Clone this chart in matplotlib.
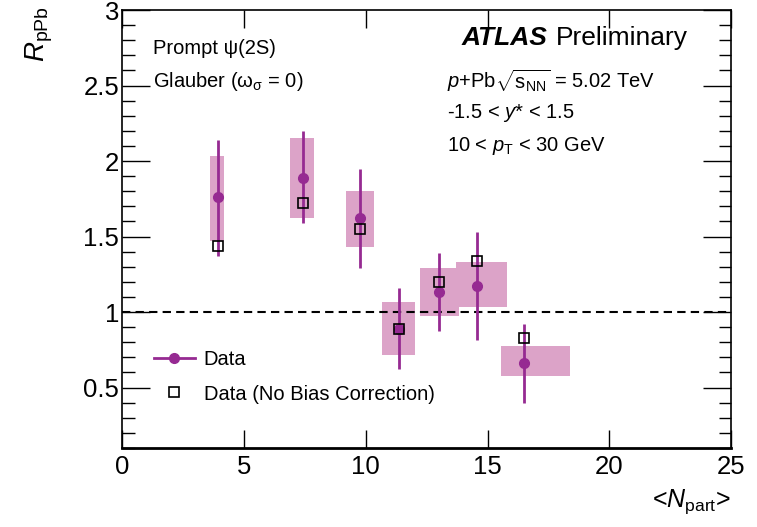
import matplotlib.pyplot as plt
import numpy as np
from matplotlib.patches import Rectangle
from matplotlib.lines import Line2D
from matplotlib.ticker import MultipleLocator

plt.rcParams['font.family'] = ['Liberation Sans', 'DejaVu Sans']
plt.rcParams['mathtext.fontset'] = 'custom'
plt.rcParams['mathtext.rm'] = 'Liberation Sans'
plt.rcParams['mathtext.it'] = 'Liberation Sans:italic'
plt.rcParams['mathtext.bf'] = 'Liberation Sans:bold'

# data
npart = [3.93, 7.43, 9.77, 11.35, 13.02, 14.58, 16.49]
rppb = [1.76, 1.89, 1.62, 0.89, 1.13, 1.17, 0.66]
stat_hi = [2.14, 2.20, 1.945, 1.157, 1.39, 1.53, 0.92]
stat_lo = [1.37, 1.59, 1.29, 0.62, 0.874, 0.815, 0.40]
sys_xlo = [3.6, 6.9, 9.18, 10.68, 12.25, 13.72, 15.56]
sys_xhi = [4.2, 7.88, 10.36, 12.01, 13.85, 15.82, 18.37]
sys_lo = [1.47, 1.62, 1.43, 0.715, 0.975, 1.035, 0.576]
sys_hi = [2.03, 2.15, 1.80, 1.064, 1.293, 1.33, 0.773]
rppb_nobias = [1.44, 1.72, 1.55, 0.89, 1.20, 1.336, 0.83]

purple = '#962a92'
pink = '#dca3c8'

fig = plt.figure(figsize=(7.57, 5.27), dpi=100)
ax = fig.add_axes([0.161, 0.150, 0.805, 0.831])

for i in range(len(npart)):
    ax.add_patch(Rectangle((sys_xlo[i], sys_lo[i]), sys_xhi[i] - sys_xlo[i],
                           sys_hi[i] - sys_lo[i], facecolor=pink, edgecolor='none', zorder=1))

ax.axhline(1, color='black', ls=(0, (4, 2.5)), lw=1.5, zorder=2)

x = np.array(npart)
y = np.array(rppb)
yerr = [y - np.array(stat_lo), np.array(stat_hi) - y]
ax.errorbar(x, y, yerr=yerr, fmt='o', color=purple, ms=7, lw=2, capsize=0, zorder=3)
ax.plot(x, rppb_nobias, 's', ms=6.5, mfc='none', mec='black', mew=1.2, ls='none', zorder=4)

ax.set_xlim(0, 25)
ax.set_ylim(0.1, 3)
ax.xaxis.set_major_locator(MultipleLocator(5))
ax.yaxis.set_minor_locator(MultipleLocator(0.1))
ax.set_yticks([0.5, 1, 1.5, 2, 2.5, 3])
ax.set_yticklabels(['0.5', '1', '1.5', '2', '2.5', '3'])
ax.tick_params(axis='both', which='both', direction='in', top=True, right=True,
               labelsize=18.5, width=1)
ax.tick_params(axis='y', which='major', length=20, pad=2)
ax.tick_params(axis='y', which='minor', length=9)
ax.tick_params(axis='x', which='major', length=13, pad=5)
for s in ax.spines.values():
    s.set_linewidth(1.2)
ax.spines['bottom'].set_linewidth(2)

fig.text(0.052, 0.988, r'$R_{\mathrm{pPb}}$', rotation=90, ha='center', va='top', fontsize=20)
fig.text(0.966, 0.020, r'<$N_{\mathrm{part}}$>', ha='right', va='bottom', fontsize=18)

ax.text(0.051, 0.913, 'Prompt ψ(2S)', transform=ax.transAxes, fontsize=14.5, va='center')
ax.text(0.051, 0.837, r'Glauber (ω$_{\mathregular{σ}}$ = 0)', transform=ax.transAxes,
        fontsize=14.5, va='center')
ax.text(0.558, 0.937, 'ATLAS', transform=ax.transAxes, fontsize=19, weight='bold',
        style='italic', va='center')
ax.text(0.712, 0.937, 'Preliminary', transform=ax.transAxes, fontsize=19, va='center')
ax.text(0.534, 0.838, r'$p$+Pb$\sqrt{\mathrm{s}_{\mathrm{NN}}}$ = 5.02 TeV',
        transform=ax.transAxes, fontsize=14.5, va='center')
ax.text(0.534, 0.764, r'-1.5 < $y$* < 1.5', transform=ax.transAxes, fontsize=14.5, va='center')
ax.text(0.534, 0.690, r'10 < $p_{\mathrm{T}}$ < 30 GeV', transform=ax.transAxes, fontsize=14.5,
        va='center')

handles = [Line2D([], [], color=purple, lw=2, marker='o', ms=7),
           Line2D([], [], ls='none', marker='s', ms=6.5, mfc='none', mec='black', mew=1.2)]
ax.legend(handles, ['Data', 'Data (No Bias Correction)'], loc='lower left',
          bbox_to_anchor=(0.04, 0.083), frameon=False, fontsize=14.5,
          handlelength=2.0, handletextpad=0.45, labelspacing=0.75, borderaxespad=0)
plt.savefig('out.png', dpi=100)
